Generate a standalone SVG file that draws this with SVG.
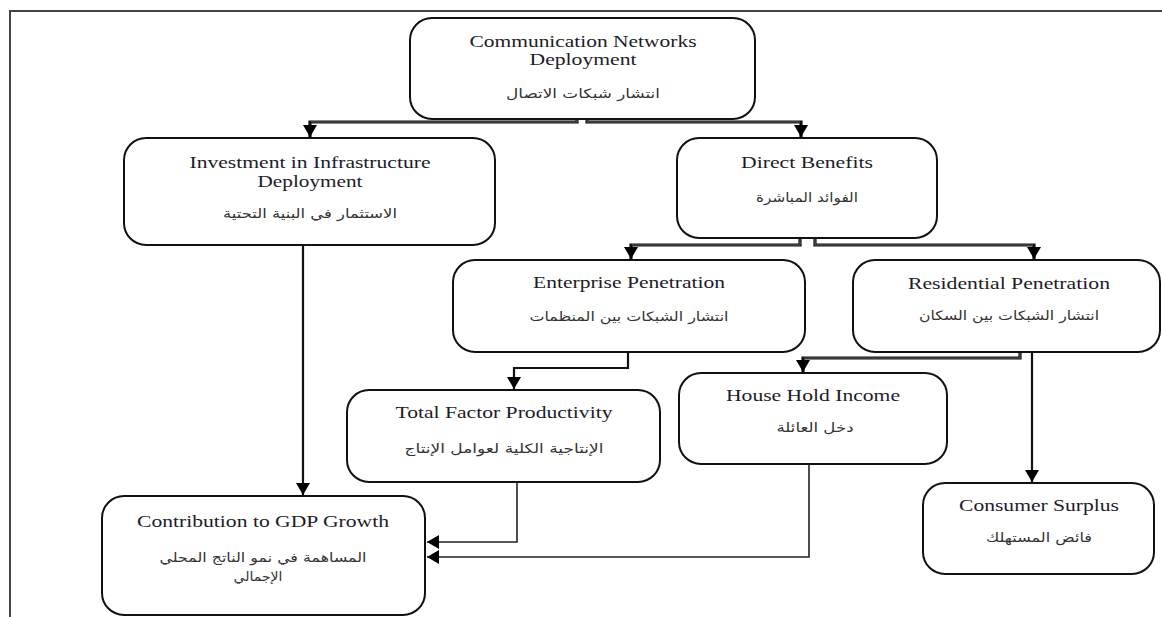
<svg xmlns="http://www.w3.org/2000/svg" width="1162" height="617" viewBox="0 0 1162 617">
<style>
.box{fill:#fff;stroke:#111;stroke-width:2}
.en{font-family:"Liberation Serif","DejaVu Serif","Times New Roman",serif;font-size:17px;fill:#1c1c2a;text-anchor:middle}
.ar{font-family:"DejaVu Sans","Noto Sans",sans-serif;font-size:13px;fill:#333;text-anchor:middle;direction:rtl}
.thick{fill:none;stroke:#111;stroke-width:3.2}
.inner{fill:none;stroke:#777;stroke-width:0.8}
.med{fill:none;stroke:#111;stroke-width:2.2}
.thin{fill:none;stroke:#222;stroke-width:1.6}
.frame{fill:none;stroke:#444;stroke-width:2}
</style>
<defs>
<marker id="ah" markerUnits="userSpaceOnUse" markerWidth="13" markerHeight="14" refX="12" refY="7" orient="auto" viewBox="0 0 13 14">
<path d="M0,0 L12,7 L0,14 Z" fill="#000"/>
</marker>
</defs>
<rect width="1162" height="617" fill="#fff"/>
<path class="frame" d="M10,617 V11 H1162"/>

<g id="connectors">
<path class="thick" d="M577,119 V122 H310 V137" marker-end="url(#ah)"/>
<path class="inner" d="M577,119 V122 H311"/>
<path class="thick" d="M587,119 V122 H801 V137" marker-end="url(#ah)"/>
<path class="inner" d="M587,119 V122 H800"/>
<path class="thick" d="M800,238 V245 H631 V259" marker-end="url(#ah)"/>
<path class="inner" d="M800,238 V245 H632"/>
<path class="thick" d="M815,238 V245 H1034 V259" marker-end="url(#ah)"/>
<path class="inner" d="M815,238 V245 H1033"/>
<path class="med" d="M628,352 V368 H514 V389" marker-end="url(#ah)"/>
<path class="thick" d="M1020,352 V358 H803 V372" marker-end="url(#ah)"/>
<path class="inner" d="M1020,352 V358 H804"/>
<path class="med" d="M1032,352 V482" marker-end="url(#ah)"/>
<path class="med" d="M303,245 V495" marker-end="url(#ah)"/>
<path class="thin" d="M517,482 V542 H427" marker-end="url(#ah)"/>
<path class="thin" d="M809,464 V557 H427" marker-end="url(#ah)"/>
</g>

<g id="n1">
<rect class="box" x="410" y="18" width="345" height="101" rx="22"/>
<text class="en" x="583" y="47" textLength="227" lengthAdjust="spacingAndGlyphs">Communication Networks</text>
<text class="en" x="583" y="65" textLength="107" lengthAdjust="spacingAndGlyphs">Deployment</text>
<text class="ar" x="583" y="98" textLength="154" lengthAdjust="spacingAndGlyphs">انتشار شبكات الاتصال</text>
</g>

<g id="n2">
<rect class="box" x="124" y="138" width="371" height="107" rx="22"/>
<text class="en" x="310" y="168" textLength="241" lengthAdjust="spacingAndGlyphs">Investment in Infrastructure</text>
<text class="en" x="310" y="187" textLength="105" lengthAdjust="spacingAndGlyphs">Deployment</text>
<text class="ar" x="310" y="218" textLength="174" lengthAdjust="spacingAndGlyphs">الاستثمار في البنية التحتية</text>
</g>

<g id="n3">
<rect class="box" x="677" y="138" width="260" height="100" rx="22"/>
<text class="en" x="807" y="168" textLength="132" lengthAdjust="spacingAndGlyphs">Direct Benefits</text>
<text class="ar" x="807" y="202" textLength="102" lengthAdjust="spacingAndGlyphs">الفوائد المباشرة</text>
</g>

<g id="n4">
<rect class="box" x="453" y="260" width="352" height="92" rx="22"/>
<text class="en" x="629" y="288" textLength="192" lengthAdjust="spacingAndGlyphs">Enterprise Penetration</text>
<text class="ar" x="629" y="321" textLength="199" lengthAdjust="spacingAndGlyphs">انتشار الشبكات بين المنظمات</text>
</g>

<g id="n5">
<rect class="box" x="853" y="260" width="307" height="92" rx="22"/>
<text class="en" x="1009" y="289" textLength="202" lengthAdjust="spacingAndGlyphs">Residential Penetration</text>
<text class="ar" x="1009" y="320" textLength="180" lengthAdjust="spacingAndGlyphs">انتشار الشبكات بين السكان</text>
</g>

<g id="n6">
<rect class="box" x="347" y="390" width="313" height="92" rx="22"/>
<text class="en" x="504" y="418" textLength="217" lengthAdjust="spacingAndGlyphs">Total Factor Productivity</text>
<text class="ar" x="504" y="453" textLength="199" lengthAdjust="spacingAndGlyphs">الإنتاجية الكلية لعوامل الإنتاج</text>
</g>

<g id="n7">
<rect class="box" x="679" y="373" width="268" height="91" rx="22"/>
<text class="en" x="813" y="401" textLength="174" lengthAdjust="spacingAndGlyphs">House Hold Income</text>
<text class="ar" x="815" y="432" textLength="77" lengthAdjust="spacingAndGlyphs">دخل العائلة</text>
</g>

<g id="n8">
<rect class="box" x="923" y="483" width="231" height="91" rx="22"/>
<text class="en" x="1039" y="511" textLength="160" lengthAdjust="spacingAndGlyphs">Consumer Surplus</text>
<text class="ar" x="1039" y="542" textLength="106" lengthAdjust="spacingAndGlyphs">فائض المستهلك</text>
</g>

<g id="n9">
<rect class="box" x="102" y="496" width="323" height="119" rx="22"/>
<text class="en" x="263" y="527" textLength="252" lengthAdjust="spacingAndGlyphs">Contribution to GDP Growth</text>
<text class="ar" x="263" y="562" textLength="207" lengthAdjust="spacingAndGlyphs">المساهمة في نمو الناتج المحلي</text>
<text class="ar" x="258" y="581" textLength="49" lengthAdjust="spacingAndGlyphs">الإجمالي</text>
</g>
</svg>
